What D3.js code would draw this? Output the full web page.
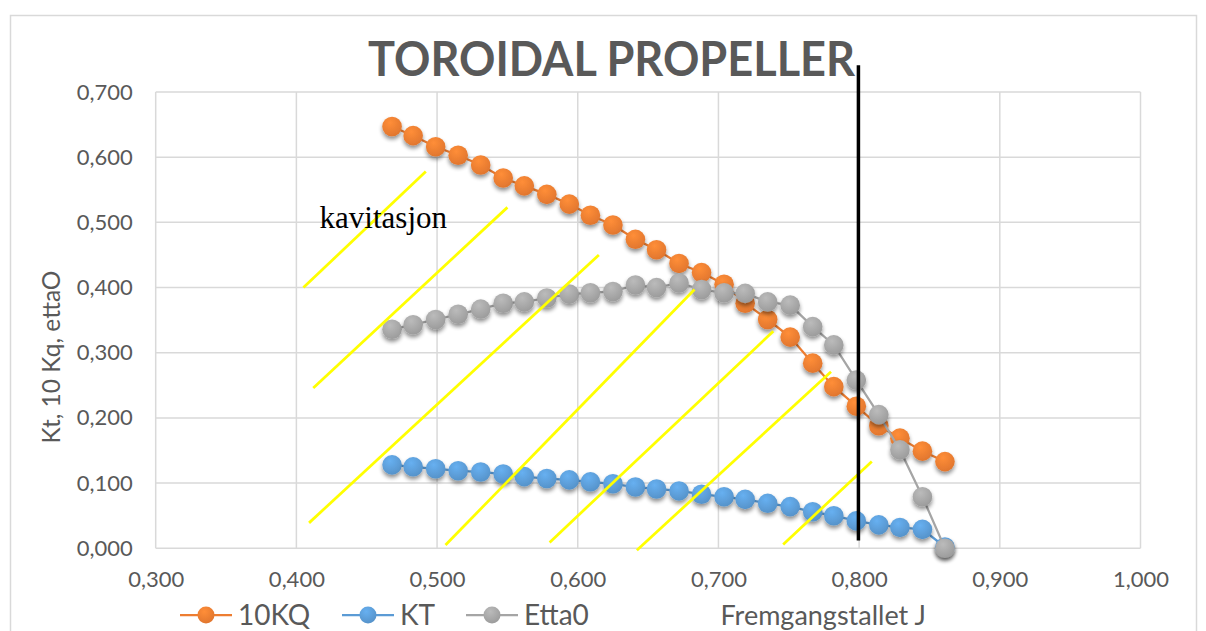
<!DOCTYPE html>
<html>
<head>
<meta charset="utf-8">
<script src="https://cdn.jsdelivr.net/npm/d3@7"></script>
<style>
body { margin: 0; background: #fff; }
svg { display: block; }
.tick text { font-family: Lato, "Open Sans", sans-serif; font-size: 22px; fill: #595959; }
</style>
</head>
<body>
<div id="chart"></div>
<script>
// advance ratio J
var jValues = [0.468, 0.483, 0.499, 0.515, 0.531, 0.547, 0.562, 0.578, 0.594, 0.609, 0.625, 0.641, 0.656,
    0.672, 0.688, 0.704, 0.719, 0.735, 0.751, 0.767, 0.782, 0.798, 0.814, 0.829, 0.845, 0.861];
var kq10 = [0.647, 0.633, 0.616, 0.603, 0.588, 0.568, 0.556, 0.543, 0.528, 0.511, 0.496, 0.474, 0.458,
    0.437, 0.423, 0.405, 0.376, 0.351, 0.324, 0.284, 0.248, 0.218, 0.188, 0.169, 0.149, 0.133];
var kt = [0.128, 0.125, 0.122, 0.119, 0.117, 0.114, 0.110, 0.107, 0.105, 0.102, 0.099, 0.094, 0.091,
    0.088, 0.083, 0.079, 0.075, 0.069, 0.064, 0.056, 0.050, 0.042, 0.036, 0.032, 0.029, 0.002];
var etta0 = [0.336, 0.343, 0.351, 0.359, 0.367, 0.376, 0.378, 0.384, 0.390, 0.392, 0.394, 0.404, 0.400,
    0.407, 0.397, 0.392, 0.391, 0.378, 0.373, 0.340, 0.312, 0.258, 0.205, 0.151, 0.079, 0.000];
var seriesNames = ["10KQ", "KT", "Etta0"];
var xTicks = [0.3, 0.4, 0.5, 0.6, 0.7, 0.8, 0.9, 1.0];
var yTicks = [0, 0.1, 0.2, 0.3, 0.4, 0.5, 0.6, 0.7];
// hand drawn hatch lines for the cavitation zone [x1, y1, x2, y2]
var hatchLines = [
    [0.405, 0.400, 0.492, 0.578],
    [0.412, 0.246, 0.550, 0.523],
    [0.409, 0.039, 0.615, 0.450],
    [0.506, 0.005, 0.683, 0.397],
    [0.580, 0.009, 0.739, 0.333],
    [0.642, -0.003, 0.780, 0.271],
    [0.746, 0.006, 0.809, 0.133]
];
var limitLine = [0.7995, 0.012, 0.7995, 0.741];

var width = 1206;
var height = 631;
var plotLeft = 155.7, plotRight = 1140.5, plotTop = 92, plotBottom = 548.3;
var colors = { "10KQ": "#ED7D31", "KT": "#5B9BD5", "Etta0": "#A5A5A5" };
var font = "Lato, 'Open Sans', sans-serif";

var svg = d3.select("#chart")
    .append("svg")
    .attr("width", width)
    .attr("height", height);

var defs = svg.append("defs");
var shadow = defs.append("filter").attr("id", "shadow")
    .attr("x", "-50%").attr("y", "-50%").attr("width", "200%").attr("height", "200%");
shadow.append("feGaussianBlur").attr("in", "SourceAlpha").attr("stdDeviation", 2);
shadow.append("feOffset").attr("dx", 0).attr("dy", 3).attr("result", "off");
shadow.append("feComponentTransfer").append("feFuncA").attr("type", "linear").attr("slope", 0.45);
var merge = shadow.append("feMerge");
merge.append("feMergeNode");
merge.append("feMergeNode").attr("in", "SourceGraphic");

seriesNames.forEach(function(name, i){
    var c = d3.color(colors[name]);
    var grad = defs.append("radialGradient").attr("id", "grad" + i)
        .attr("cx", "40%").attr("cy", "30%").attr("r", "70%");
    grad.append("stop").attr("offset", "0%").attr("stop-color", c.brighter(0.35));
    grad.append("stop").attr("offset", "100%").attr("stop-color", c.darker(0.15));
});

// chart area border
svg.append("rect")
    .attr("x", 10.5).attr("y", 15.5)
    .attr("width", 1186).attr("height", 640)
    .attr("fill", "none")
    .attr("stroke", "#D9D9D9")
    .attr("stroke-width", 1.5);

var x_scale = d3.scaleLinear().domain([0.3, 1.0]).range([plotLeft, plotRight]);
var y_scale = d3.scaleLinear().domain([0, 0.7]).range([plotBottom, plotTop]);
var fmt = function(d){ return d3.format(".3f")(d).replace(".", ","); };

// gridlines
svg.append("g")
    .selectAll("line").data(xTicks).enter()
    .append("line")
    .attr("x1", function(d){ return x_scale(d); })
    .attr("x2", function(d){ return x_scale(d); })
    .attr("y1", plotTop).attr("y2", plotBottom)
    .attr("stroke", "#D9D9D9").attr("stroke-width", 1.5);
svg.append("g")
    .selectAll("line").data(yTicks).enter()
    .append("line")
    .attr("x1", plotLeft).attr("x2", plotRight)
    .attr("y1", function(d){ return y_scale(d); })
    .attr("y2", function(d){ return y_scale(d); })
    .attr("stroke", "#D9D9D9").attr("stroke-width", 1.5);

var xAxis = d3.axisBottom(x_scale).tickValues(xTicks).tickFormat(fmt).tickSize(0).tickPadding(23);
var yAxis = d3.axisLeft(y_scale).tickValues(yTicks).tickFormat(fmt).tickSize(0).tickPadding(23);
svg.append("g")
    .attr("transform", "translate(0," + plotBottom + ")")
    .call(xAxis)
    .call(function(g){ g.select(".domain").remove(); });
svg.append("g")
    .attr("transform", "translate(" + plotLeft + ",0)")
    .call(yAxis)
    .call(function(g){ g.select(".domain").remove(); });

// title
svg.append("text")
    .attr("x", 611.5).attr("y", 76)
    .attr("text-anchor", "middle")
    .attr("font-family", font)
    .attr("font-weight", "bold")
    .attr("font-size", 47)
    .attr("fill", "#595959")
    .attr("textLength", 487)
    .attr("lengthAdjust", "spacingAndGlyphs")
    .text("TOROIDAL PROPELLER");

// y axis title
svg.append("text")
    .attr("transform", "translate(60,357)rotate(-90)")
    .attr("text-anchor", "middle")
    .attr("font-family", font)
    .attr("font-size", 24.5)
    .attr("fill", "#595959")
    .text("Kt, 10 Kq, ettaO");

// series
var seriesValues = [kq10, kt, etta0];
var line = d3.line()
    .x(function(d){ return x_scale(d[0]); })
    .y(function(d){ return y_scale(d[1]); });

seriesNames.forEach(function(name, i){
    var pts = jValues.map(function(j, k){ return [j, seriesValues[i][k]]; });
    var g = svg.append("g").attr("class", "series");
    g.append("path")
        .datum(pts)
        .attr("d", line)
        .attr("fill", "none")
        .attr("stroke", colors[name])
        .attr("stroke-width", 2.25);
    g.selectAll("circle").data(pts).enter()
        .append("circle")
        .attr("cx", function(d){ return x_scale(d[0]); })
        .attr("cy", function(d){ return y_scale(d[1]); })
        .attr("r", 9.8)
        .attr("fill", "url(#grad" + i + ")")
        .attr("filter", "url(#shadow)");
});

// cavitation hatch
svg.append("g")
    .selectAll("line").data(hatchLines).enter()
    .append("line")
    .attr("x1", function(d){ return x_scale(d[0]); })
    .attr("y1", function(d){ return y_scale(d[1]); })
    .attr("x2", function(d){ return x_scale(d[2]); })
    .attr("y2", function(d){ return y_scale(d[3]); })
    .attr("stroke", "#FFFF00")
    .attr("stroke-width", 2.75);

svg.append("text")
    .attr("x", x_scale(0.4165)).attr("y", y_scale(0.491))
    .attr("font-family", "'Liberation Serif', 'DejaVu Serif', serif")
    .attr("font-size", 31)
    .attr("fill", "#000")
    .text("kavitasjon");

// black limit line
svg.append("line")
    .attr("x1", x_scale(limitLine[0])).attr("y1", y_scale(limitLine[1]))
    .attr("x2", x_scale(limitLine[2])).attr("y2", y_scale(limitLine[3]))
    .attr("stroke", "#000")
    .attr("stroke-width", 3.5);

// legend
var legendX = [180, 342, 466];
var legend = svg.append("g");
seriesNames.forEach(function(name, i){
    var lg = legend.append("g").attr("transform", "translate(" + legendX[i] + ",615)");
    lg.append("line").attr("x1", 0).attr("x2", 52).attr("y1", 0).attr("y2", 0)
        .attr("stroke", colors[name]).attr("stroke-width", 2.25);
    lg.append("circle").attr("cx", 26).attr("cy", 0).attr("r", 8.5)
        .attr("fill", "url(#grad" + i + ")");
    lg.append("text").attr("x", 58).attr("y", 9.5)
        .attr("font-family", font).attr("font-size", 28).attr("fill", "#595959")
        .text(name);
});

svg.append("text")
    .attr("x", 720.5).attr("y", 625)
    .attr("font-family", font)
    .attr("font-size", 27)
    .attr("fill", "#595959")
    .text("Fremgangstallet J");
</script>
</body>
</html>
